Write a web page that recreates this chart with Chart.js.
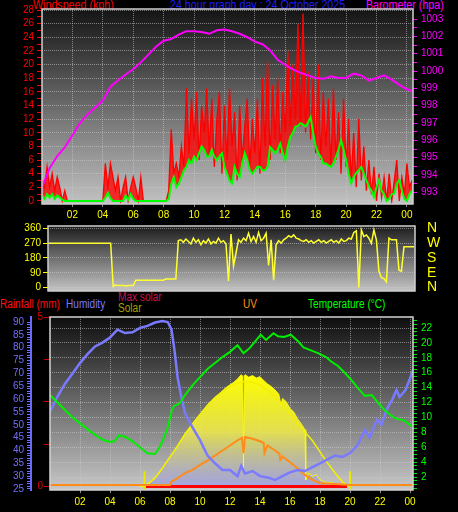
<!DOCTYPE html>
<html lang="en">
<head>
  <meta charset="UTF-8" />
  <title>24 hour graph day : 24 October 2025</title>
  <script src="https://cdn.jsdelivr.net/npm/chart.js"></script>
  <style>
    html, body { margin: 0; padding: 0; background: #000; }
    body { width: 458px; height: 512px; position: relative; overflow: hidden;
           font-family: "Liberation Sans", Arial, sans-serif; }
    .titulo { position: absolute; white-space: nowrap; font-size: 12px; line-height: 12px;
              transform: scaleX(0.89); transform-origin: 0 0; }
    .legenda { position: absolute; white-space: nowrap; font-size: 12px; line-height: 12px;
               transform: scaleX(0.84); transform-origin: 0 0; }
    canvas { position: absolute; left: 0; }
  </style>
</head>
<body>
  <div class="titulo" style="left:33px;top:-1px;color:#ff0000">Windspeed (kph)</div>
  <div class="titulo" style="left:170px;top:-1px;color:#1e1eff">24 hour graph day : 24 October 2025</div>
  <div class="titulo" style="left:366px;top:-1px;color:#ff00ff">Barometer (hpa)</div>

  <div class="legenda" style="left:0px;top:298px;color:#ff1010">Rainfall (mm)</div>
  <div class="legenda" style="left:66px;top:298px;color:#7878ff">Humidity</div>
  <div class="legenda" style="left:118px;top:291px;color:#c8144a">Max solar</div>
  <div class="legenda" style="left:118px;top:302px;color:#a8a000">Solar</div>
  <div class="legenda" style="left:243px;top:298px;color:#ff8c1a">UV</div>
  <div class="legenda" style="left:308px;top:298px;color:#00ff00">Temperature (°C)</div>

  <canvas id="graficoVento" width="458" height="222" style="top:0px"></canvas>
  <canvas id="graficoDirecao" width="458" height="76" style="top:222px"></canvas>
  <canvas id="graficoClima" width="458" height="214" style="top:298px"></canvas>

  <script>
    // eixo das horas (rotulos 02 ... 00)
    const horasEixo = [2, 4, 6, 8, 10, 12, 14, 16, 18, 20, 22, 24];

    // vento, leituras a cada 10 minutos desde 00:00 (kph)
    const ventoRajada = [
      3, 2, 5, 2, 4, 1.5, 3.5, 2, 0, 1.5, 0, 0, 0,
      0, 0, 0, 0, 0, 0, 0, 0, 0, 0, 0, 0,
      5.5, 2, 5.5, 3.5, 1.5,
      3.5, 0, 2, 3.5, 0, 2, 3.5, 2, 0, 3.5, 0,
      0, 0, 0, 0, 0, 0, 0, 0, 0, 1.5,
      10.5, 4, 5.5, 3.5, 8, 5,
      16.5, 7, 15, 9, 16, 6, 14, 10, 16.5, 7,
      15, 5, 12, 16, 4, 14, 6, 16.5, 8, 13,
      3, 14, 6, 11, 15, 5, 12, 7, 15, 4,
      18, 8, 20.5, 6, 17, 9, 18, 7, 16, 10,
      22, 11, 20, 12, 26, 11, 27.5, 10, 19, 9,
      18, 7, 20, 6, 16, 8, 15, 5, 16.5, 6,
      13, 4, 15, 5, 12, 3, 10, 2, 12, 3,
      8, 1.5, 6, 1, 5, 0, 4, 0.5, 3.5, 0,
      4, 0, 3, 6, 0, 3.5, 1, 5.5, 2, 3
    ];
    const ventoMedio = [
      0.8, 0.3, 1.0, 0.5, 1.0, 0.3, 0.8, 0.5, 0.2, 0, 0, 0, 0,
      0, 0, 0, 0, 0, 0, 0, 0, 0, 0, 0, 0,
      0.5, 1.2, 0.4, 0, 0,
      0, 0, 0, 0.8, 0.2, 1.0, 0.3, 0, 0, 0, 0,
      0, 0, 0, 0, 0, 0, 0, 0, 0, 0.3,
      2.5, 3.5, 2, 2.5, 3.5, 4.5,
      5, 6, 5.5, 6.5, 6, 7, 8, 7.5, 6.5, 6.5,
      7.5, 6.5, 6, 6.5, 7, 5, 4, 3, 2.6, 5,
      4, 3.5, 5.5, 7, 6, 4.5, 4, 4.5, 5, 5,
      4.5, 4.5, 5, 7.9, 7.5, 7, 7.5, 8.4, 7, 6,
      8, 9.4, 10, 10.9, 11, 11.4, 11.2, 10.9, 11.5, 12.3,
      10, 8, 7, 6.5, 5.5, 5.5, 5.2, 5, 5.5, 6.5,
      7.5, 8.9, 7.5, 6, 4, 2.6, 3.5, 4.1, 4.5, 5,
      4, 3, 2.1, 1.5, 0.6, 2, 3.1, 1.5, 1, 0,
      0.3, 1, 1.1, 2.5, 3.1, 1.5, 0.3, 0, 1, 1.5
    ];
    // direcao do vento a cada 10 minutos (graus)
    const direcaoVento = [
      270, 270, 270, 270, 270, 270, 270, 270, 270, 270, 270, 270, 270,
      270, 270, 270, 270, 270, 270, 270, 270, 270, 270, 270, 270, 270,
      8, 15, 12, 12, 12, 10, 12, 12, 12,
      45, 45, 45, 45, 45, 45, 45, 45, 45, 45, 45, 45,
      52, 52, 52, 52, 52,
      285, 290, 275, 295, 280, 265, 300, 275, 290, 260,
      285, 270, 295, 265, 280, 270, 300, 275, 285, 265,
      40, 325, 130, 210, 290, 275, 300, 285, 330, 280,
      310, 275, 335, 285, 300, 330, 135, 290, 45, 260,
      285, 270, 290, 300, 315, 305, 320, 300, 295, 285,
      280, 290, 275, 285, 270, 280, 290, 275, 285, 270,
      280, 290, 275, 285, 270, 295, 280, 285, 300, 295,
      335, 345, 0, 350, 310, 320, 300, 268, 350, 290,
      100, 60, 55, 35, 300, 290, 290, 290, 105, 100,
      248, 248, 248, 248, 248
    ];
    // barometro a cada meia hora (hPa)
    const horasBarometro = [
      0, 0.5, 1, 1.5, 2, 2.5, 3, 3.5, 4, 4.5, 5, 5.5, 6, 6.5, 7, 7.5, 8, 8.5, 9, 9.5,
      10, 10.5, 11, 11.5, 12, 12.5, 13, 13.5, 14, 14.5, 15, 15.5, 16, 16.5, 17, 17.5,
      18, 18.5, 19, 19.5, 20, 20.5, 21, 21.5, 22, 22.5, 23, 23.5, 24, 24.5
    ];
    const barometro = [
      993.3, 994.4, 995.1, 995.6, 996.3, 997.0, 997.5, 997.9, 998.3, 999.1,
      999.45, 999.8, 1000.1, 1000.5, 1000.95, 1001.4, 1001.75, 1001.85, 1002.1, 1002.3,
      1002.3, 1002.25, 1002.15, 1002.35, 1002.4, 1002.3, 1002.15, 1001.95, 1001.7, 1001.55,
      1001.2, 1000.65, 1000.35, 1000.1, 999.9, 999.75, 999.6, 999.55, 999.7, 999.6,
      999.6, 999.85, 999.75, 999.45, 999.6, 999.75, 999.5, 999.2, 998.95, 998.8
    ];

    // humidade (%)
    const horasUmidade = [
      0, 0.5, 1, 1.5, 2, 2.5, 3, 3.5, 4, 4.5, 5, 5.5, 6, 6.5, 7, 7.5, 7.85, 8.1, 8.3, 8.5,
      8.75, 9, 9.5, 10, 10.5, 11, 11.5, 12, 12.5, 12.75, 13, 13.5, 14, 14.5, 15, 15.5, 16, 16.5, 17, 17.5,
      18, 18.5, 19, 19.5, 20, 20.5, 21, 21.3, 21.8, 22.1, 22.45, 22.8, 23.1, 23.3, 23.7, 24, 24.2
    ];
    const umidade = [
      55, 61, 66, 70, 74, 77.5, 80.5, 82, 84, 87, 85.7, 86, 87.7, 88.5, 89.8, 90.4, 90, 87, 79, 68.6,
      61, 54.6, 49, 44, 38, 35, 32.4, 32.4, 30, 34, 31, 32, 30, 29.5, 28.5, 30, 31.5, 32.4, 32, 33.5,
      35, 36.5, 38, 37.5, 39, 42, 48, 45, 52, 50, 56, 59.6, 63.5, 60.8, 63.5, 68, 71.3
    ];
    // temperatura (°C)
    const horasTemperatura = [
      0, 0.5, 1, 1.5, 2, 2.5, 3, 3.5, 4, 4.3, 4.6, 5, 5.5, 6, 6.5, 7, 7.3, 7.5, 7.85,
      8.1, 8.25, 8.65, 9, 9.5, 10, 10.5, 11, 11.5, 12, 12.5, 12.9, 13.3, 13.6, 14.05, 14.4, 14.9, 15.2, 15.6, 16.05,
      16.5, 16.9, 17.4, 17.9, 18.4, 18.75, 19.2, 19.6, 20.1, 20.5, 21, 21.45, 21.9, 22.3, 22.6, 23, 23.6, 24.2
    ];
    const temperatura = [
      13, 12, 11, 10, 9.2, 8.4, 7.7, 7, 6.7, 6.8, 7.6, 7.4, 6.8, 6, 5.2, 5.1, 6, 6.8, 8.7,
      10.8, 11.5, 11.9, 13, 14.3, 15.4, 16.5, 17.3, 18.1, 18.8, 19.7, 18.6, 19.3, 20, 21.1, 20.4, 21.3, 20.9, 20.8, 21.1,
      20.3, 19.4, 19, 18.6, 18.1, 17.5, 16.9, 16.1, 15, 14, 12.9, 13, 11.9, 11, 10.5, 9.9, 9.6, 8.7
    ];
    // radiacao solar (W/m²)
    const horasSolar = [
      6, 6.25, 6.5, 6.75, 7, 7.25, 7.5, 7.75, 8, 8.25, 8.5, 8.75, 9, 9.25, 9.5, 9.75,
      10, 10.25, 10.5, 10.75, 11, 11.25, 11.5, 11.75, 12, 12.25, 12.5, 12.75, 12.85, 12.9, 12.95,
      13, 13.25, 13.5, 13.75, 14, 14.25, 14.5, 14.75, 15, 15.25, 15.4, 15.5, 15.75, 16, 16.25, 16.5, 16.75,
      17, 17.05, 17.25, 17.5, 17.75, 18, 18.25, 18.5, 18.75, 19, 19.25, 19.5, 19.75
    ];
    const solar = [
      0, 0, 10, 30, 55, 80, 110, 140, 175, 205, 240, 275, 310, 340, 370, 400,
      425, 455, 480, 505, 525, 545, 565, 585, 600, 615, 635, 660, 650, 110, 655,
      660, 645, 655, 640, 648, 625, 605, 590, 570, 545, 480, 520, 500, 460, 440, 400, 370,
      335, 40, 80, 60, 70, 40, 30, 20, 25, 15, 10, 5, 0
    ];
    const horasMaxSolar = [
      6.3, 7, 7.5, 8, 8.5, 9, 9.5, 10, 10.5, 11, 11.5, 12, 12.5, 13, 13.5, 14,
      14.5, 15, 15.5, 16, 16.5, 17, 17.5, 18, 18.5, 19, 19.5, 19.9
    ];
    const maxSolar = [
      0, 50, 110, 175, 240, 310, 370, 425, 480, 525, 560, 590, 610, 620, 615, 600,
      570, 530, 485, 430, 370, 320, 270, 205, 140, 80, 28, 0
    ];
    const nascerPorSol = [6.3, 20.0];
    // indice UV
    const horasUV = [
      0, 8, 8.1, 8.5, 9, 9.5, 10, 10.5, 11, 11.5, 12, 12.5, 12.8, 12.9, 13, 13.5,
      14, 14.25, 14.3, 14.5, 15, 15.3, 15.35, 15.5, 16, 16.5, 17, 17.5, 18, 19, 20, 24.2
    ];
    const uv = [
      0, 0, 0.2, 0.4, 0.7, 0.9, 1.2, 1.45, 1.75, 2.05, 2.35, 2.65, 2.8, 1.9, 2.85, 2.75,
      2.6, 2.5, 1.9, 2.35, 2.05, 1.85, 1.5, 1.7, 1.35, 1.0, 0.6, 0.3, 0.1, 0.05, 0, 0
    ];
    // chuva (mm)
    const horasChuva = [6.4, 19.8];
    const chuva = [0, 0];

    // rotulos dos eixos
    const ticksVento = [0, 2, 4, 6, 8, 10, 12, 14, 16, 18, 20, 22, 24, 26, 28];
    const ticksBaro = [993, 994, 995, 996, 997, 998, 999, 1000, 1001, 1002, 1003];
    const ticksDirecao = [0, 90, 180, 270, 360];
    const pontosCardeais = ['N', 'E', 'S', 'W', 'N'];
    const ticksUmidade = [25, 30, 35, 40, 45, 50, 55, 60, 65, 70, 75, 80, 85, 90];
    const ticksChuva = [0, 1.25, 2.5, 3.75, 5];
    const ticksTemperatura = [2, 4, 6, 8, 10, 12, 14, 16, 18, 20, 22];

    Chart.defaults.font.family = '"Liberation Sans", Arial, sans-serif';
    Chart.defaults.font.size = 10;
    Chart.defaults.animation = false;
    Chart.defaults.responsive = false;
    Chart.defaults.devicePixelRatio = 1;
    Chart.defaults.plugins.legend.display = false;
    Chart.defaults.plugins.tooltip.enabled = false;
    Chart.defaults.elements.point.radius = 0;
    Chart.defaults.elements.line.tension = 0;

    const corGrade = 'rgba(205,205,205,0.55)';

    function serie10min(valores) {
      return valores.map((v, i) => ({ x: i / 6, y: v }));
    }
    function serie(horas, valores) {
      return horas.map((h, i) => ({ x: h, y: valores[i] }));
    }
    // marcas menores entre os rotulos
    function comMenores(rotulos, passo) {
      const lista = [];
      for (let v = rotulos[0]; v <= rotulos[rotulos.length - 1] + 1e-9; v += passo) lista.push(+v.toFixed(3));
      return lista;
    }
    function fixarTicks(lista) {
      return scale => { scale.ticks = lista.map(v => ({ value: v })); };
    }
    // largura fixa, sem a folga automatica para os rotulos extremos
    function largura(px) {
      return scale => { scale.width = px; scale.paddingTop = 0; scale.paddingBottom = 0; };
    }
    function altura(px) {
      return scale => { scale.height = px; scale.paddingLeft = 0; scale.paddingRight = 0; };
    }
    function rotuloHora(v) { return String(v % 24).padStart(2, '0'); }
    function soRotulos(rotulos) {
      return v => rotulos.includes(v) ? String(v) : '';
    }
    function gradeSo(rotulos) {
      return c => c.tick && rotulos.includes(c.tick.value) ? corGrade : 'rgba(0,0,0,0)';
    }

    const fundoPainel = {
      id: 'fundoPainel',
      beforeDraw(chart, args, opts) {
        const { ctx, chartArea: a } = chart;
        const g = ctx.createLinearGradient(0, a.top, 0, a.bottom);
        g.addColorStop(0, opts.topo);
        g.addColorStop(1, opts.base);
        ctx.save();
        ctx.fillStyle = g;
        ctx.fillRect(a.left, a.top, a.width, a.height);
        ctx.restore();
      },
      afterDatasetsDraw(chart, args, opts) {
        const { ctx, chartArea: a } = chart;
        ctx.save();
        ctx.strokeStyle = opts.moldura;
        ctx.lineWidth = 1.5;
        ctx.strokeRect(a.left, a.top, a.width, a.height);
        ctx.restore();
      }
    };

    const eixoHoras = (maximo, alt, mostrar, folga) => ({
      type: 'linear', min: 0, max: maximo, display: mostrar,
      afterBuildTicks: fixarTicks(horasEixo), afterFit: altura(alt),
      ticks: { color: '#ffff00', padding: folga, callback: rotuloHora, maxRotation: 0, autoSkip: false },
      grid: { color: corGrade, tickColor: '#8a8a8a', tickLength: 3 },
      border: { display: false, dash: [1, 1] }
    });

    // painel do vento e barometro
    new Chart(document.getElementById('graficoVento'), {
      type: 'line',
      data: {
        datasets: [
          { label: 'Barometer (hpa)', data: serie(horasBarometro, barometro), yAxisID: 'yBaro',
            borderColor: '#ff00ff', borderWidth: 2 },
          { label: 'Windspeed (kph)', data: serie10min(ventoMedio), yAxisID: 'yVento',
            borderColor: '#00ff00', borderWidth: 2 },
          { label: 'Wind gust (kph)', data: serie10min(ventoRajada), yAxisID: 'yVento',
            borderColor: '#ff0000', borderWidth: 1.3,
            fill: 1, backgroundColor: 'rgba(255,0,0,0.78)' }
        ]
      },
      options: {
        layout: { padding: { top: 9 } },
        scales: {
          x: eixoHoras(24.4, 18, true, 2),
          yVento: {
            position: 'left', min: -0.45, max: 28.15,
            afterBuildTicks: fixarTicks(comMenores(ticksVento, 1)), afterFit: largura(42),
            ticks: { color: '#ff0000', padding: 3, autoSkip: false, callback: soRotulos(ticksVento) },
            grid: { color: gradeSo(ticksVento), tickColor: '#ff0000', tickLength: 5 },
            border: { display: false, dash: [1, 1] }
          },
          yBaro: {
            position: 'right', min: 992.33, max: 1003.58,
            afterBuildTicks: fixarTicks(comMenores(ticksBaro, 0.5)), afterFit: largura(45),
            ticks: { color: '#ff00ff', padding: 4, autoSkip: false, callback: soRotulos(ticksBaro) },
            grid: { drawOnChartArea: false, tickColor: '#ff00ff', tickLength: 4 },
            border: { display: false }
          }
        },
        plugins: { fundoPainel: { topo: '#141414', base: '#c2c2c2', moldura: '#cfcfcf' } }
      },
      plugins: [fundoPainel]
    });

    // painel da direcao do vento
    new Chart(document.getElementById('graficoDirecao'), {
      type: 'line',
      data: {
        datasets: [
          { label: 'Wind direction', data: serie10min(direcaoVento), yAxisID: 'yDir',
            borderColor: '#ffff30', borderWidth: 1.5 }
        ]
      },
      options: {
        layout: { padding: { top: 4, bottom: 7 } },
        scales: {
          x: eixoHoras(24.4, 0, false, 2),
          yDir: {
            position: 'left', min: -20.7, max: 374,
            afterBuildTicks: fixarTicks(ticksDirecao), afterFit: largura(48),
            ticks: { color: '#ffff00', padding: 2, autoSkip: false },
            grid: { color: corGrade, tickColor: '#ffff00', tickLength: 5 },
            border: { display: false, dash: [1, 1] }
          },
          yCardeal: {
            position: 'right', min: -20.7, max: 374,
            afterBuildTicks: fixarTicks(ticksDirecao), afterFit: largura(43),
            ticks: { color: '#ffff00', padding: 12, autoSkip: false, font: { size: 14 },
                     callback: v => pontosCardeais[ticksDirecao.indexOf(v)] },
            grid: { drawOnChartArea: false, drawTicks: false },
            border: { display: false }
          }
        },
        plugins: { fundoPainel: { topo: '#1c1c1c', base: '#c4c4c4', moldura: '#cfcfcf' } }
      },
      plugins: [fundoPainel]
    });

    // painel de chuva, humidade, solar, UV e temperatura
    new Chart(document.getElementById('graficoClima'), {
      type: 'line',
      data: {
        datasets: [
          { label: 'Temperature (°C)', data: serie(horasTemperatura, temperatura), yAxisID: 'yTemp',
            borderColor: '#00ee00', borderWidth: 2 },
          { label: 'Humidity', data: serie(horasUmidade, umidade), yAxisID: 'yUmid',
            borderColor: '#7a7aff', borderWidth: 2.5 },
          { label: 'UV', data: serie(horasUV, uv), yAxisID: 'yUV',
            borderColor: '#ff8c1a', borderWidth: 2 },
          { label: 'Rainfall (mm)', data: serie(horasChuva, chuva), yAxisID: 'yChuva',
            borderColor: '#ff0000', borderWidth: 3 },
          { label: 'Max solar', data: serie(horasMaxSolar, maxSolar), yAxisID: 'ySolar',
            borderColor: '#f4f000', borderWidth: 1.5 },
          { label: 'Sunrise / sunset', yAxisID: 'ySolar', borderColor: '#e8e800', borderWidth: 2,
            data: nascerPorSol.flatMap(h => [{ x: h, y: -20 }, { x: h, y: 90 }, { x: h, y: null }]) },
          { label: 'Solar', data: serie(horasSolar, solar), yAxisID: 'ySolar',
            borderColor: 'rgba(255,255,0,0.9)', borderWidth: 1, fill: 'origin',
            backgroundColor: ctx => {
              const { chart } = ctx;
              if (!chart.chartArea) return 'rgba(255,255,0,0.6)';
              const esc = chart.scales.ySolar;
              const g = chart.ctx.createLinearGradient(0, esc.getPixelForValue(Math.max(...solar)), 0, esc.getPixelForValue(0));
              g.addColorStop(0, 'rgba(255,255,0,1)');
              g.addColorStop(0.5, 'rgba(240,235,70,0.88)');
              g.addColorStop(1, 'rgba(150,150,235,0.7)');
              return g;
            } }
        ]
      },
      options: {
        layout: { padding: { top: 19 } },
        scales: {
          x: eixoHoras(24.2, 22, true, 3),
          yUmid: {
            position: 'left', weight: 1, min: 24.61, max: 91.95,
            afterBuildTicks: fixarTicks(comMenores(ticksUmidade, 1)), afterFit: largura(31),
            ticks: { color: '#7070ff', padding: 3, autoSkip: false, callback: soRotulos(ticksUmidade) },
            grid: { drawOnChartArea: false, tickColor: '#7070ff', tickLength: 4 },
            border: { display: true, color: '#6a6aff', width: 2 }
          },
          yChuva: {
            position: 'left', weight: 0, min: -0.103, max: 5,
            afterBuildTicks: fixarTicks(ticksChuva), afterFit: largura(19),
            ticks: { color: '#dd0000', padding: 1, autoSkip: false, callback: v => (v === 0 || v === 5) ? String(v) : '' },
            grid: { drawOnChartArea: false, tickColor: '#cc0000', tickLength: 6 },
            border: { display: false }
          },
          yTemp: {
            position: 'right', min: 0.26, max: 23.48,
            afterBuildTicks: fixarTicks(comMenores([0.5, 23], 0.5)), afterFit: largura(45),
            ticks: { color: '#00ff00', padding: 4, autoSkip: false, callback: soRotulos(ticksTemperatura) },
            grid: { color: gradeSo(ticksTemperatura), tickColor: '#00dd00', tickLength: 4 },
            border: { display: false, dash: [1, 1] }
          },
          ySolar: { display: false, min: -20, max: 1000 },
          yUV: { display: false, min: -0.3, max: 10 }
        },
        plugins: { fundoPainel: { topo: '#0e0e0e', base: '#c8c8c8', moldura: '#d4d4d4' } }
      },
      plugins: [fundoPainel]
    });
  </script>
</body>
</html>
